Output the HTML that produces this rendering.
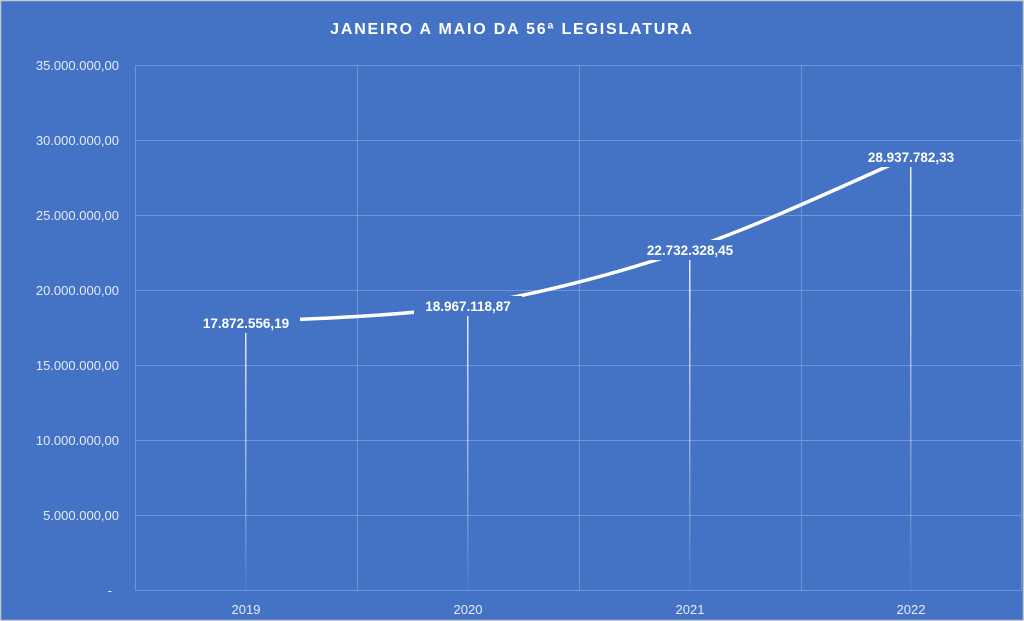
<!DOCTYPE html>
<html><head><meta charset="utf-8"><style>
body{margin:0;background:#4472C4;}
svg{display:block}
text{font-family:"Liberation Sans",sans-serif;}
</style></head><body>
<svg width="1024" height="621" viewBox="0 0 1024 621">
<defs>
<linearGradient id="dl" x1="0" y1="0" x2="0" y2="1">
<stop offset="0" stop-color="#fff" stop-opacity="0.9"/>
<stop offset="1" stop-color="#fff" stop-opacity="0.05"/>
</linearGradient>
</defs>
<rect x="0.5" y="0.5" width="1023" height="620" fill="#4472C4" stroke="#c8c8c8" stroke-width="1.5"/>
<g stroke="#7394d2" stroke-width="1" fill="none">
<line x1="135" y1="65.5" x2="1022" y2="65.5"/>
<line x1="135" y1="140.5" x2="1022" y2="140.5"/>
<line x1="135" y1="215.5" x2="1022" y2="215.5"/>
<line x1="135" y1="290.5" x2="1022" y2="290.5"/>
<line x1="135" y1="365.5" x2="1022" y2="365.5"/>
<line x1="135" y1="440.5" x2="1022" y2="440.5"/>
<line x1="135" y1="515.5" x2="1022" y2="515.5"/>
<line x1="135" y1="590.5" x2="1022" y2="590.5"/>
<line x1="135.5" y1="65" x2="135.5" y2="590"/>
<line x1="357.5" y1="65" x2="357.5" y2="590"/>
<line x1="579.5" y1="65" x2="579.5" y2="590"/>
<line x1="801.5" y1="65" x2="801.5" y2="590"/>
<line x1="1021.5" y1="65" x2="1021.5" y2="590"/>
</g>
<rect x="245" y="322" width="1.5" height="268" fill="url(#dl)"/>
<rect x="467" y="305" width="1.5" height="285" fill="url(#dl)"/>
<rect x="689" y="249" width="1.5" height="341" fill="url(#dl)"/>
<rect x="910" y="156" width="1.5" height="434" fill="url(#dl)"/>
<path d="M246,322 C283,319.25 394,317.7 468,305.5 C542,293.3 616,273.9 690,249 C764,224.1 874,171.5 911,156" stroke="#fff" stroke-width="3.5" fill="none" stroke-linecap="round"/>
<g fill="#4472C4">
<rect x="192" y="313" width="108" height="20"/>
<rect x="414" y="296" width="108" height="20"/>
<rect x="636" y="240" width="108" height="20"/>
<rect x="857" y="147" width="108" height="20"/>
</g>
<g fill="#fff" font-weight="bold" font-size="13.5" text-anchor="middle">
<text x="246" y="328">17.872.556,19</text>
<text x="468" y="311">18.967.118,87</text>
<text x="690" y="255">22.732.328,45</text>
<text x="911" y="162">28.937.782,33</text>
</g>
<text x="512" y="34" fill="#fff" font-weight="bold" font-size="16" text-anchor="middle" letter-spacing="1.8">JANEIRO A MAIO DA 56ª LEGISLATURA</text>
<g fill="#e6ecf7" font-size="13" text-anchor="end">
<text x="119" y="70">35.000.000,00</text>
<text x="119" y="145">30.000.000,00</text>
<text x="119" y="220">25.000.000,00</text>
<text x="119" y="295">20.000.000,00</text>
<text x="119" y="370">15.000.000,00</text>
<text x="119" y="445">10.000.000,00</text>
<text x="119" y="520">5.000.000,00</text>
<text x="112" y="595">-</text>
</g>
<g fill="#e6ecf7" font-size="13" text-anchor="middle">
<text x="246" y="614">2019</text>
<text x="468" y="614">2020</text>
<text x="690" y="614">2021</text>
<text x="911" y="614">2022</text>
</g>
</svg>
</body></html>
